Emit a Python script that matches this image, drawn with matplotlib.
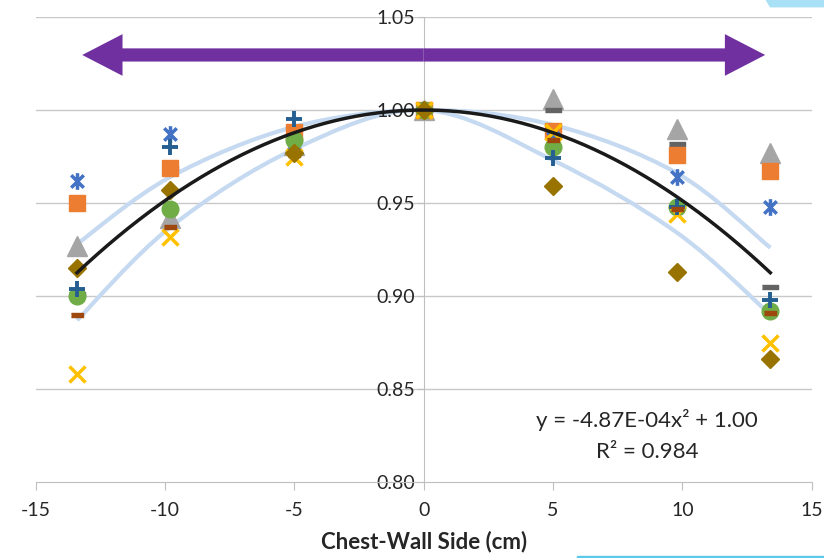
import matplotlib.pyplot as plt
from matplotlib.path import Path
from matplotlib.patches import PathPatch, FancyArrowPatch, Polygon

# positions across the chest wall (cm)
pos = [-13.4, -9.8, -5, 0, 5, 9.8, 13.4]

# normalized values per series
star_vals = [0.962, 0.987, 0.982, 1.000, 0.985, 0.964, 0.948]
square_vals = [0.950, 0.969, 0.988, 1.000, 0.989, 0.976, 0.967]
triangle_vals = [0.927, 0.942, 0.981, 1.000, 1.006, 0.990, 0.977]
x_vals = [0.858, 0.932, 0.975, 1.000, 0.988, 0.944, 0.875]
plus_vals = [0.904, 0.980, 0.995, 1.000, 0.974, 0.948, 0.898]
circle_vals = [0.900, 0.947, 0.984, 1.000, 0.980, 0.948, 0.892]
dash_vals = [0.901, 0.969, 0.990, 1.000, 1.000, 0.982, 0.905]
short_dash_vals = [0.890, 0.937, 0.976, 1.000, 0.984, 0.947, 0.891]
diamond_vals = [0.915, 0.957, 0.977, 1.000, 0.959, 0.913, 0.866]

# light blue envelope curves
upper_band = [0.928, 0.964, 0.991, 1.000, 0.992, 0.966, 0.926]
lower_band = [0.887, 0.937, 0.979, 1.000, 0.973, 0.934, 0.890]

# quadratic trend line
coef_a = -4.87e-4
coef_c = 1.00
r2 = 0.984


def smooth_path(xs, ys):
    # Catmull-Rom style bezier, like Excel's smoothed line
    verts = [(xs[0], ys[0])]
    codes = [Path.MOVETO]
    n = len(xs)
    for i in range(n - 1):
        x0, y0 = (xs[i - 1], ys[i - 1]) if i > 0 else (xs[i], ys[i])
        x1, y1 = xs[i], ys[i]
        x2, y2 = xs[i + 1], ys[i + 1]
        x3, y3 = (xs[i + 2], ys[i + 2]) if i + 2 < n else (x2, y2)
        c1 = (x1 + (x2 - x0) / 6, y1 + (y2 - y0) / 6)
        c2 = (x2 - (x3 - x1) / 6, y2 - (y3 - y1) / 6)
        verts += [c1, c2, (x2, y2)]
        codes += [Path.CURVE4] * 3
    return Path(verts, codes)


plt.rcParams['font.family'] = ['Lato', 'DejaVu Sans']
plt.rcParams['axes.unicode_minus'] = False

fig = plt.figure(figsize=(8.24, 5.58), dpi=100)
ax = fig.add_axes([0.0433, 0.136, 0.9418, 0.8335])

ax.set_xlim(-15, 15)
ax.set_ylim(0.80, 1.05)

for yv in [0.85, 0.90, 0.95, 1.00, 1.05]:
    ax.axhline(yv, color='#c8c8c8', lw=1, zorder=0)

for band in [upper_band, lower_band]:
    ax.add_patch(PathPatch(smooth_path(pos, band), fill=False,
                           edgecolor='#c5d9f1', lw=3, zorder=1))

xs_fit = [p / 10 for p in range(-134, 135)]
ax.plot(xs_fit, [coef_a * v * v + coef_c for v in xs_fit],
        color='#1a1a1a', lw=2.5, zorder=6)

star_marker = Path([(0, -1), (0, 1), (-0.75, -0.75), (0.75, 0.75),
                    (-0.75, 0.75), (0.75, -0.75)],
                   [Path.MOVETO, Path.LINETO, Path.MOVETO, Path.LINETO,
                    Path.MOVETO, Path.LINETO])
long_dash = [(-1, -0.3), (1, -0.3), (1, 0.3), (-1, 0.3)]
short_dash = [(-1, -0.4), (1, -0.4), (1, 0.4), (-1, 0.4)]

ax.plot(pos, triangle_vals, ls='none', marker='^', ms=14, color='#a5a5a5', zorder=3)
ax.plot(pos, dash_vals, ls='none', marker=long_dash, ms=11, color='#636363', zorder=3)
ax.plot(pos, square_vals, ls='none', marker='s', ms=12, color='#ed7d31', zorder=3)
ax.plot(pos, star_vals, ls='none', marker=star_marker, ms=12, mew=2.5,
        color='#4472c4', zorder=4)
ax.plot(pos, circle_vals, ls='none', marker='o', ms=12, color='#70ad47', zorder=4)
ax.plot(pos, x_vals, ls='none', marker='x', ms=11, mew=2.5, color='#ffc000', zorder=4)
ax.plot(pos, plus_vals, ls='none', marker='+', ms=12, mew=2.8, color='#255e91', zorder=5)
ax.plot(pos, short_dash_vals, ls='none', marker=short_dash, ms=8, color='#9e480e', zorder=5)
ax.plot(pos, diamond_vals, ls='none', marker='D', ms=9, color='#997300', zorder=5)

# purple double arrow
for end in [-13.2, 13.2]:
    ax.add_patch(FancyArrowPatch((0, 1.0296), (end, 1.0296),
                                 arrowstyle='simple,head_length=2.9,head_width=3.0,tail_width=0.95',
                                 mutation_scale=10, color='#7030a0', lw=0,
                                 shrinkA=0, shrinkB=0, zorder=7))

ax.text(8.63, 0.8333, 'y = -4.87E-04x\u00b2 + 1.00', ha='center', va='center',
        fontsize=16, color='#262626')
ax.text(8.63, 0.8161, 'R\u00b2 = 0.984', ha='center', va='center',
        fontsize=16, color='#262626')

for side in ['top', 'right']:
    ax.spines[side].set_visible(False)
ax.spines['left'].set_position(('data', 0))
ax.spines['left'].set_color('#bfbfbf')
ax.spines['bottom'].set_color('#bfbfbf')

ax.set_xticks([-15, -10, -5, 0, 5, 10, 15])
ax.set_yticks([0.80, 0.85, 0.90, 0.95, 1.00, 1.05])
ax.set_yticklabels(['0.80', '0.85', '0.90', '0.95', '1.00', '1.05'])
ax.tick_params(axis='x', colors='#bfbfbf', labelcolor='#262626',
               labelsize=14, length=6, direction='out', pad=8)
ax.tick_params(axis='y', colors='#bfbfbf', labelcolor='#262626',
               labelsize=14, length=4, direction='out', pad=2)
ax.set_xlabel('Chest-Wall Side (cm)', fontsize=16, fontweight='bold',
              color='#262626', labelpad=9)

# slide decorations at the edges
fig.patches.append(Polygon([(0.93, 1.0), (0.935, 0.988), (1.0, 0.988), (1.0, 1.0)],
                           closed=True, transform=fig.transFigure,
                           color='#a8e0f5', zorder=0))
fig.patches.append(Polygon([(0.70, 0.0), (0.70, 0.004), (1.0, 0.004), (1.0, 0.0)],
                           closed=True, transform=fig.transFigure,
                           color='#5bc8ec', zorder=0))

fig.savefig('out.png', dpi=100)
